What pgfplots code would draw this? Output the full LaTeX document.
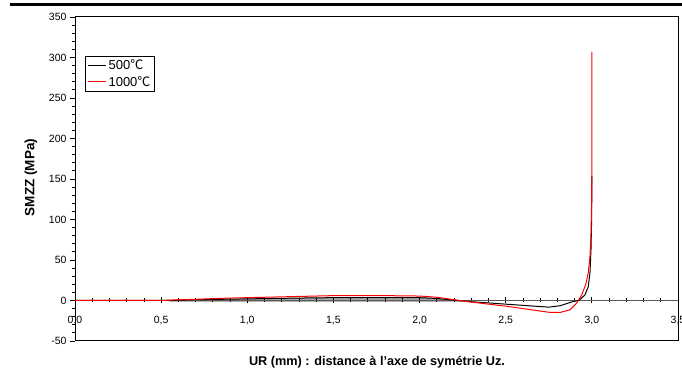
\documentclass[border=0pt]{standalone}
\usepackage{fontspec}
\setmainfont{Liberation Sans}
\newfontfamily\cjk{Noto Sans CJK SC}
\usepackage{pgfplots}
\pgfplotsset{compat=1.18}
\begin{document}
\begin{tikzpicture}
\pgfplotsset{common/.style={at={(0pt,0pt)}, anchor=south west, scale only axis,
  width=603pt, height=324pt, xmin=0, xmax=3.5, ymin=-50, ymax=350,
  tick label style={font=\fontsize{10.5}{12}\selectfont},
  /pgf/number format/assume math mode=true}}
\begin{axis}[common, axis line style={line width=1pt},
  xtick=\empty, ytick={-50,0,...,350}, minor y tick num=4,
  ytick pos=left, ytick align=outside, major tick length=5pt, minor tick length=3pt,
  y tick style={black, line width=0.8pt}]
\addplot[fill=gray!70, draw=gray!85] coordinates {(0.55,0)(0.7,1)(1.0,2)(1.3,3)(1.5,3.5)(2.0,3.5)(2.1,2.5)(2.2,0.5)(2.25,-1.5)(0.55,-1.5)} -- cycle;
\end{axis}
\begin{axis}[common, axis x line=middle, axis y line=none,
  axis line style={-, gray!70!black, line width=1pt},
  hide obscured x ticks=false,
  xtick={0,0.5,...,3.5}, minor x tick num=4, tick align=center,
  major tick length=6pt, minor tick length=4pt,
  x tick style={black, line width=0.8pt},
  xticklabel style={yshift=-9pt, /pgf/number format/.cd, fixed, fixed zerofill, precision=1, use comma},
  ytick=\empty]
\end{axis}
\begin{axis}[common, hide axis,
  legend style={at={(rel axis cs:0.0166,0.88)}, anchor=north west, draw=black, line width=0.7pt,
    font=\fontsize{13}{15}\selectfont, inner xsep=2pt, inner ysep=1.5pt, row sep=1pt},
  legend cell align=left,
  legend image code/.code={\draw[#1] (0pt,0pt) -- (18pt,0pt);}]
\addplot[draw=black, line width=1pt] coordinates {(0,0)(0.55,0)(0.7,1)(1.0,2)(1.3,3)(1.5,3.5)(2.0,3.5)(2.1,2.5)(2.2,0.5)(2.3,-1.5)(2.5,-4.5)(2.7,-7.5)(2.75,-8.2)(2.815,-6.5)(2.892,-1.2)(2.925,0)(2.96,7)(2.979,17)(2.989,34)(2.995,63)(2.999,104)(3.0,154)};
\addlegendentry{500{\cjk ℃}}
\addplot[draw=red, line width=1pt, legend image post style={line width=1.2pt}] coordinates {(0,0)(0.5,0)(0.55,0.5)(0.7,1.5)(0.9,3)(1.0,3.5)(1.2,4.5)(1.4,5.5)(1.5,6)(1.8,6)(2.0,5.5)(2.1,4)(2.2,1)(2.3,-2)(2.5,-7)(2.6,-10)(2.7,-13)(2.75,-14.5)(2.815,-14.8)(2.873,-11.5)(2.912,-3.2)(2.941,7)(2.964,19.4)(2.979,34)(2.989,54)(2.995,83)(2.999,124)(3.0,180)(3.0,307)};
\addlegendentry{1000{\cjk ℃}}
\end{axis}
\draw[line width=3pt] (-65pt,336pt) -- (607pt,336pt);
\node[font=\bfseries\fontsize{12.7}{14}\selectfont] at (302pt,-21pt) {UR (mm) : distance à l'axe de symétrie Uz.};
\node[font=\bfseries\fontsize{13.5}{15}\selectfont, rotate=90] at (-44pt,163.5pt) {SMZZ (MPa)};
\pgfresetboundingbox
\path[use as bounding box] (-75pt,-41pt) rectangle (607pt,341pt);
\end{tikzpicture}
\end{document}
